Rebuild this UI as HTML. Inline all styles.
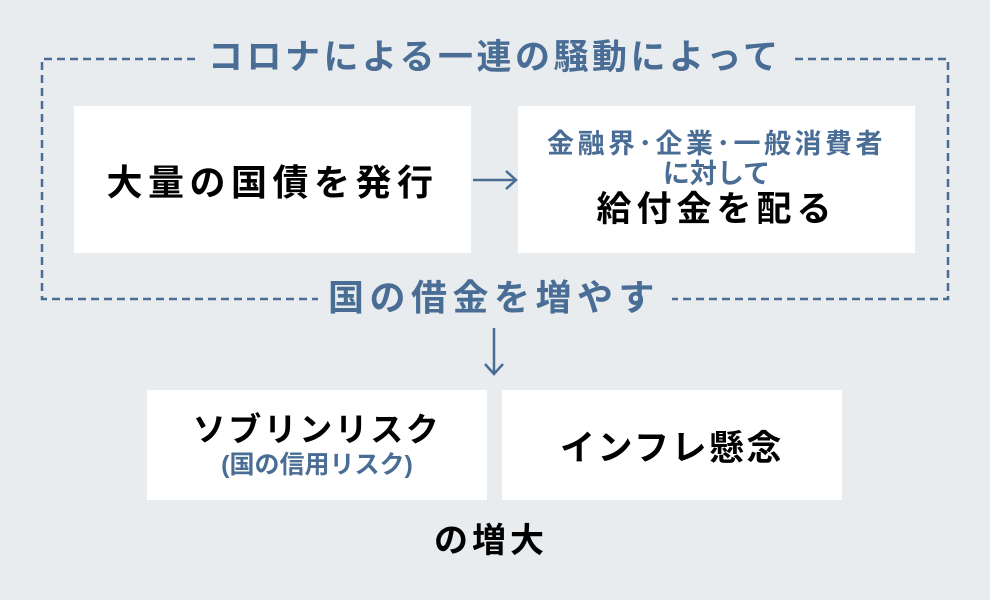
<!DOCTYPE html>
<html><head><meta charset="utf-8"><style>
body{margin:0;width:990px;height:600px;background:#e9ecef;position:relative;overflow:hidden;font-family:"Liberation Sans","Noto Sans CJK JP",sans-serif;}
.a{position:absolute;}
.box{position:absolute;background:#fff;display:flex;flex-direction:column;align-items:center;justify-content:center;}
.blue{color:#4a6d96;}
.t{position:absolute;white-space:nowrap;font-weight:bold;line-height:1;}
</style></head><body>
<svg class="a" style="left:0;top:0" width="990" height="600">
<g stroke="#4a6d96" stroke-width="2.5" fill="none" stroke-dasharray="8,5">
<path d="M195 59 H42 V299 H318"/>
<path d="M795 59 H948 V299 H672"/>
</g>
<g stroke="#4a6d96" stroke-width="2.5" fill="none">
<path d="M473 180 H516 M506 171 L516 180 L506 189"/>
<path d="M494 328 V374 M485 364 L494 374 L503 364"/>
</g>
</svg>
<div class="t blue" style="left:208px;top:40px;font-size:35px;letter-spacing:3.5px;">コロナによる一連の騒動によって</div>
<div class="box" style="left:74px;top:106px;width:397px;height:147px;"><div style="font-size:36px;font-weight:bold;letter-spacing:5.5px;">大量の国債を発行</div></div>
<div class="box" style="left:518px;top:106px;width:397px;height:147px;">
<div class="blue" style="font-size:27px;font-weight:bold;letter-spacing:3.5px;line-height:32px;">金融界･企業･一般消費者</div>
<div class="blue" style="font-size:27px;font-weight:bold;line-height:28px;">に対して</div>
<div style="font-size:35px;font-weight:bold;letter-spacing:5px;line-height:44px;">給付金を配る</div>
</div>
<div class="t blue" style="left:328px;top:280px;font-size:36px;letter-spacing:5.5px;">国の借金を増やす</div>
<div class="box" style="left:147px;top:390px;width:340px;height:110px;">
<div style="font-size:33px;font-weight:bold;letter-spacing:2.5px;line-height:40px;">ソブリンリスク</div>
<div class="blue" style="font-size:25px;font-weight:bold;line-height:30px;">(国の信用リスク)</div>
</div>
<div class="box" style="left:502px;top:390px;width:340px;height:110px;"><div style="font-size:35px;font-weight:bold;letter-spacing:2.5px;">インフレ懸念</div></div>
<div class="t" style="left:434px;top:524px;font-size:34px;letter-spacing:4px;">の増大</div>
</body></html>
